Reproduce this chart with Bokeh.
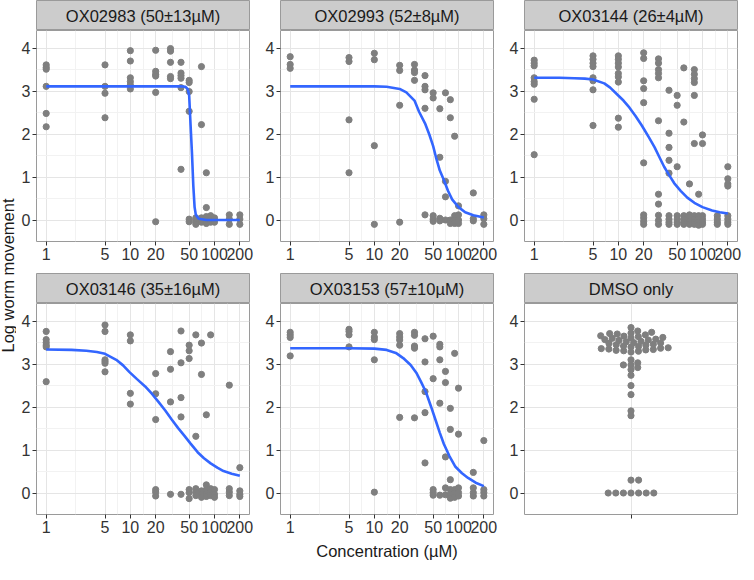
import math
from bokeh.plotting import figure
from bokeh.layouts import row, column
from bokeh.models import Range1d, FixedTicker, BasicTickFormatter
from bokeh.core.properties import value
from bokeh.embed import file_html
from bokeh.resources import INLINE

# ---------------- data ----------------
CONC_TICKS = [1, 5, 10, 20, 50, 100, 200]
CONC_MINOR = [2.236, 7.071, 14.14, 31.62, 70.71, 141.4]
Y_TICKS = [0, 1, 2, 3, 4]
Y_MINOR = [0.5, 1.5, 2.5, 3.5]

TITLES = ["OX02983 (50\u00b113\u00b5M)", "OX02993 (52\u00b18\u00b5M)", "OX03144 (26\u00b14\u00b5M)",
          "OX03146 (35\u00b116\u00b5M)", "OX03153 (57\u00b110\u00b5M)", "DMSO only"]

# log worm movement by concentration (uM)
resp_OX02983 = {
    1: [3.61, 3.55, 3.51, 3.11, 2.48, 2.17],
    5: [3.61, 3.11, 2.95, 2.38],
    10: [3.94, 3.70, 3.31, 3.22, 3.14, 3.05],
    20: [3.95, 3.46, 3.39, 3.35, 2.97, -0.04],
    30: [3.99, 3.93, 3.67, 3.34, 3.29],
    40: [3.67, 3.42, 3.36, 3.30, 3.08, 1.18],
    50: [3.25, 3.20, 2.99, 2.53, 0.02, -0.04],
    60: [0.05, 0.0, -0.05, -0.10],
    70: [3.57, 2.22, 0.05, -0.05],
    80: [1.10, 0.29, 0.08, 0.0, -0.08],
    90: [0.10, 0.0, -0.05],
    100: [0.05, -0.05],
    150: [0.12, 0.02, -0.10],
    200: [0.12, 0.02, -0.10],
}
resp_OX02993 = {
    1: [3.80, 3.62, 3.53],
    5: [3.78, 3.69, 2.33, 1.10],
    10: [3.88, 3.73, 1.73, -0.10],
    20: [3.60, 3.48, 2.67, -0.05],
    30: [3.62, 3.49, 3.43, 3.25],
    40: [3.36, 3.11, 3.03, 2.60, 0.12],
    50: [2.96, 2.84, 0.10, 0.02, -0.03],
    60: [2.59, 1.46, 0.04, -0.02],
    70: [2.96, 0.90, 0.54, 0.0],
    80: [2.80, 2.38, 0.0, -0.08],
    90: [1.95, 0.10, 0.0, -0.08],
    100: [0.33, 0.12, 0.0, -0.08],
    150: [0.63, 0.03, -0.02],
    200: [0.12, 0.03, -0.10],
}
resp_OX03144 = {
    1: [3.72, 3.65, 3.59, 3.31, 3.22, 3.16, 2.81, 1.52],
    5: [3.82, 3.74, 3.65, 3.57, 3.31, 3.24, 3.03, 2.20],
    10: [3.82, 3.74, 3.65, 3.56, 3.41, 3.33, 3.21, 2.37, 2.16],
    20: [3.89, 3.76, 3.24, 3.06, 2.73, 1.33, 0.12, 0.05, -0.03, -0.10],
    30: [3.75, 3.65, 3.50, 3.41, 3.31, 2.31, 0.60, 0.37, 0.11, -0.01, -0.10],
    40: [3.02, 2.02, 1.69, 1.39, 1.09, 0.10, 0.02, -0.05, -0.10],
    50: [2.90, 2.67, 1.24, 0.10, 0.02, -0.05, -0.10],
    60: [3.54, 2.28, 0.10, 0.02, -0.05, -0.10],
    70: [0.84, 0.12, 0.05, -0.03, -0.10],
    80: [3.50, 3.39, 3.29, 3.20, 2.90, 1.78, 0.10, 0.02, -0.05, -0.10],
    90: [0.60, 0.10, 0.02, -0.05, -0.12],
    100: [1.98, 1.78, 0.10, 0.02, -0.05, -0.10],
    150: [0.10, 0.02, -0.05, -0.10],
    200: [1.24, 0.96, 0.84, 0.79, 0.10, 0.02, -0.05, -0.10],
}
resp_OX03146 = {
    1: [3.76, 3.57, 3.50, 3.44, 3.40, 2.59],
    5: [3.91, 3.76, 3.10, 3.06, 3.02, 2.82],
    10: [3.68, 3.54, 2.32, 2.07],
    20: [2.78, 2.31, 1.71, 0.08, 0.02, -0.07],
    30: [3.29, 2.88, 2.12, -0.03],
    40: [3.77, 3.03, 2.22, 1.77, -0.03],
    50: [3.44, 3.31, 3.13, 0.08, 0.01, -0.13],
    60: [3.68, 1.32, 0.10, 0.02, -0.06],
    70: [3.49, 2.76, 0.05, -0.03, -0.10],
    80: [1.82, 0.19, 0.08, -0.02, -0.08],
    90: [3.68, 0.10, 0.02, -0.06],
    100: [0.08, -0.03, -0.10],
    150: [2.51, 0.10, 0.02, -0.06],
    200: [0.59, 0.05, -0.03, -0.08],
}
resp_OX03153 = {
    1: [3.74, 3.68, 3.62, 3.19],
    5: [3.81, 3.76, 3.68, 3.40],
    10: [3.74, 3.63, 3.57, 3.10, 0.02],
    20: [3.71, 3.63, 3.56, 3.44, 1.76],
    30: [3.74, 3.67, 3.42, 3.37, 1.75],
    40: [3.59, 3.05, 2.36, 1.87, 0.70],
    50: [3.65, 2.66, 0.08, 0.01, -0.05],
    60: [3.46, 3.40, 3.10, 2.09, -0.05],
    70: [2.83, 2.57, 0.84, 0.12, -0.04],
    80: [1.97, 1.48, 0.31, 0.08, -0.04, -0.12],
    90: [3.25, 0.08, -0.01, -0.10],
    100: [2.44, 1.37, 0.12, 0.01, -0.07],
    150: [0.48, 0.12, 0.01, -0.07],
    200: [1.22, 0.08, 0.01, -0.07],
}
resp_DMSO = [0, 0, 0, 0, 0, 0, 0, 0.30, 0.30, 1.80, 1.91, 2.29, 2.50, 2.74,
             2.87, 2.92, 2.98, 2.98, 3.03, 3.10,
             3.28, 3.30, 3.31, 3.32, 3.33, 3.34, 3.35, 3.36, 3.37, 3.38, 3.40, 3.41,
             3.42, 3.44, 3.45, 3.46, 3.48, 3.49, 3.50, 3.52, 3.53, 3.55, 3.56, 3.57,
             3.58, 3.60, 3.61, 3.62, 3.64, 3.65, 3.66, 3.68, 3.70, 3.71, 3.72, 3.74,
             3.77, 3.85]

# fitted dose-response curves
fit_x_OX02983 = [1, 10, 40, 45, 48, 50, 52, 54, 56, 58, 60, 65, 80, 200]
fit_y_OX02983 = [3.11, 3.11, 3.11, 3.10, 3.05, 2.90, 2.20, 1.55, 0.80, 0.30, 0.12, 0.03, 0.0, 0.0]
fit_x_OX02993 = [1, 5, 10, 14, 20, 24, 30, 34, 40, 45, 50, 54, 60, 67, 75, 84, 100, 120, 150, 200]
fit_y_OX02993 = [3.11, 3.11, 3.11, 3.10, 3.05, 2.97, 2.78, 2.52, 2.25, 1.99, 1.72, 1.46, 1.15, 0.93,
                 0.68, 0.48, 0.30, 0.18, 0.11, 0.06]
fit_x_OX03144 = [1, 2, 3, 4, 5, 6.8, 8, 9.7, 11.5, 13.5, 16, 19, 23, 27, 31, 35, 40, 46, 55, 66,
                 80, 100, 130, 160, 200]
fit_y_OX03144 = [3.31, 3.31, 3.30, 3.29, 3.27, 3.18, 3.08, 2.92, 2.78, 2.62, 2.42, 2.20, 1.93, 1.69,
                 1.45, 1.24, 1.05, 0.86, 0.68, 0.52, 0.40, 0.30, 0.22, 0.18, 0.15]
fit_x_OX03146 = [1, 2, 3, 4, 5, 6.8, 8.2, 9.7, 12, 15, 18, 21.6, 26, 31, 37, 44, 52, 63, 75, 90,
                 108, 128, 160, 200]
fit_y_OX03146 = [3.34, 3.33, 3.31, 3.28, 3.24, 3.10, 2.97, 2.82, 2.65, 2.48, 2.31, 2.12, 1.92, 1.71,
                 1.51, 1.33, 1.15, 0.95, 0.81, 0.69, 0.59, 0.51, 0.45, 0.40]
fit_x_OX03153 = [1, 5, 10, 14, 18, 22, 27, 31.5, 36, 41, 47, 54, 60, 67, 78, 92, 110, 130, 160, 200]
fit_y_OX03153 = [3.37, 3.37, 3.36, 3.33, 3.26, 3.14, 2.98, 2.80, 2.58, 2.35, 2.02, 1.67, 1.40, 1.14,
                 0.86, 0.61, 0.46, 0.35, 0.24, 0.16]

# ---------------- styling ----------------
FONTNAME = "Liberation Sans"
FONT = value(FONTNAME)
FW, FH = 213, 211
STRIP_H = 30
YMIN, YMAX = -0.50, 4.41
XMIN, XMAX = 0.767, 260.6
BORDER = "#9A9A9A"
STRIP_FILL = "#CCCCCC"
PT = "#7F7F7F"
LINE = "#3366FF"
TXT = "#1A1A1A"
TICKTXT = "#333333"
COLS = [(20, 8), (23, 8), (23, 6)]


def strip(title, col):
    L, R = COLS[col]
    p = figure(frame_width=FW, frame_height=STRIP_H, x_range=Range1d(0, 1), y_range=Range1d(0, 1),
               x_axis_location=None, y_axis_location=None, toolbar_location=None,
               output_backend="svg", min_border_left=L, min_border_right=R,
               min_border_top=0, min_border_bottom=0)
    p.background_fill_color = STRIP_FILL
    p.outline_line_color = BORDER
    p.grid.grid_line_color = None
    p.text(x=[0.5], y=[0.47], text=[title], text_align="center", text_baseline="middle",
           text_font=FONT, text_font_size="16.5px", text_color=TXT)
    return p


def style_axes(p):
    for ax in p.axis:
        ax.axis_line_color = None
        ax.major_tick_line_color = TICKTXT
        ax.major_tick_out = 4
        ax.major_tick_in = 0
        ax.minor_tick_line_color = None
        ax.major_label_text_font = FONTNAME
        ax.major_label_text_font_size = "16px"
        ax.major_label_text_color = TICKTXT
        ax.major_label_standoff = 2
    p.yaxis.ticker = FixedTicker(ticks=Y_TICKS, minor_ticks=Y_MINOR)
    p.grid.grid_line_color = "#E5E5E5"
    p.grid.grid_line_width = 1
    p.grid.minor_grid_line_color = "#F2F2F2"
    p.grid.minor_grid_line_width = 1


def swarm(vals, dx_min, dy_min, ppu):
    """Simple beeswarm layout (pixel offsets), elliptical collision."""
    order = sorted(range(len(vals)), key=lambda i: vals[i])
    placed = []
    out = [0.0] * len(vals)
    for i in order:
        y = vals[i] * ppu
        cands = [0.0]
        for (px, py) in placed:
            dy = abs(py - y)
            if dy < dy_min:
                dx = dx_min * math.sqrt(1 - (dy / dy_min) ** 2)
                cands += [px + dx, px - dx]
        cands.sort(key=lambda c: (round(abs(c), 6), -c))
        for c in cands:
            if all(((c - px) / dx_min) ** 2 + ((y - py) / dy_min) ** 2 >= 1 - 1e-6
                   for px, py in placed):
                out[i] = c
                placed.append((c, y))
                break
    return out


def panel(col, bottom, resp=None, fx=None, fy=None, dmso=None, xlabel=None):
    L, R = COLS[col]
    common = dict(frame_width=FW, frame_height=FH, y_range=Range1d(YMIN, YMAX),
                  toolbar_location=None, output_backend="svg",
                  min_border_left=L, min_border_right=R, min_border_top=0,
                  min_border_bottom=bottom)
    if dmso is None:
        p = figure(x_axis_type="log", x_range=Range1d(XMIN, XMAX), **common)
    else:
        p = figure(x_range=Range1d(-FW / 2, FW / 2), **common)
    p.outline_line_color = BORDER
    p.background_fill_color = "white"
    p.border_fill_color = "white"
    style_axes(p)
    if dmso is None:
        p.xaxis.ticker = FixedTicker(ticks=CONC_TICKS, minor_ticks=CONC_MINOR)
        p.xaxis.formatter = BasicTickFormatter()
        xs, ys = [], []
        for c, vals in resp.items():
            for v in vals:
                xs.append(c)
                ys.append(v)
        p.scatter(xs, ys, size=6.2, color=PT)
        p.line(fx, fy, line_color=LINE, line_width=2.6)
    else:
        p.xaxis.ticker = FixedTicker(ticks=[0], minor_ticks=[])
        p.xaxis.major_label_overrides = {0: ""}
        ppu = FH / (YMAX - YMIN)
        xs = swarm(dmso, 7.6, 4.6, ppu)
        p.scatter(xs, dmso, size=6.2, color=PT)
    if xlabel:
        p.xaxis.axis_label = xlabel
        p.xaxis.axis_label_text_font = FONTNAME
        p.xaxis.axis_label_text_font_size = "16.5px"
        p.xaxis.axis_label_text_font_style = "normal"
        p.xaxis.axis_label_text_color = TXT
        p.xaxis.axis_label_standoff = 6
    return p


TOP_B, BOT_B = 32, 50
s = [strip(TITLES[i], i % 3) for i in range(6)]
p1 = panel(0, TOP_B, resp_OX02983, fit_x_OX02983, fit_y_OX02983)
p2 = panel(1, TOP_B, resp_OX02993, fit_x_OX02993, fit_y_OX02993)
p3 = panel(2, TOP_B, resp_OX03144, fit_x_OX03144, fit_y_OX03144)
p4 = panel(0, BOT_B, resp_OX03146, fit_x_OX03146, fit_y_OX03146)
p5 = panel(1, BOT_B, resp_OX03153, fit_x_OX03153, fit_y_OX03153, xlabel="Concentration (\u00b5M)")
p6 = panel(2, BOT_B, dmso=resp_DMSO)

TOTAL_H = STRIP_H + FH + TOP_B + STRIP_H + FH + BOT_B
ylab = figure(width=16, height=TOTAL_H, x_range=Range1d(0, 1), y_range=Range1d(0, TOTAL_H),
              x_axis_location=None, y_axis_location=None, toolbar_location=None,
              output_backend="svg", min_border=0)
ylab.outline_line_color = None
ylab.grid.grid_line_color = None
ylab.text(x=[0.45], y=[TOTAL_H - 275], text=["Log worm movement"], angle=math.pi / 2,
          text_align="center", text_baseline="middle", text_font=FONT,
          text_font_size="16.5px", text_color=TXT)

grid = column(row(s[0], s[1], s[2]), row(p1, p2, p3), row(s[3], s[4], s[5]), row(p4, p5, p6))
layout = row(ylab, grid)

open("out.html", "w").write(file_html(layout, INLINE))
